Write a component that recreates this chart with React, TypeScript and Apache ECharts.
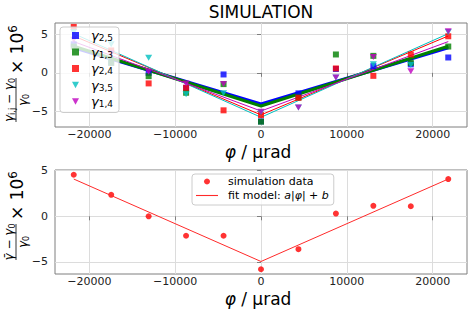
import React, { useEffect, useRef } from 'react';
import * as echarts from 'echarts';

// ---- data ----
const phi = [-21817, -17453, -13090, -8727, -4363, 0, 4363, 8727, 13090, 17453, 21817];
const gamma25 = [3.7, 1.3, 0.0, -1.95, -0.21, -6.3, -2.66, 0.5, 0.87, 1.1, 1.99];
const gamma13 = [3.4, 1.3, -0.43, -2.58, -1.46, -6.33, -3.2, 2.38, 2.2, 1.29, 3.41];
const gamma24 = [5.95, 2.9, -1.37, -1.93, -4.86, -5.47, -3.23, 0.57, -0.39, 2.38, 4.74];
const gamma35 = [5.3, 3.7, 1.94, -2.79, -2.66, -5.1, -4.5, -0.6, 1.12, 1.03, 5.3];
const gamma14 = [4.3, 2.55, 0.13, -1.37, -1.46, -5.03, -4.5, -0.6, 2.05, 0.22, 5.39];

const fitPhi = [-21817, 0, 21817];
const fit25 = [3.25, -4.04, 3.25];
const fit13 = [3.45, -4.3, 3.45];
const fit24 = [4.78, -5.45, 4.78];
const fit35 = [5.08, -5.76, 5.08];
const fit14 = [4.05, -4.95, 4.05];

const meanValues = [4.55, 2.35, 0.0, -2.13, -2.13, -5.8, -3.6, 0.3, 1.15, 1.1, 4.08];
const meanFit = [4.08, -4.95, 4.08];

const xTicks = [-20000, -10000, 0, 10000, 20000];
const yTicks = [-5, 0, 5];

const FONT = "'DejaVu Sans', sans-serif";
const TRI = 'path://M0,0L10,0L5,9Z';
const LINE_ICON = 'path://M0,0L40,0L40,2L0,2Z';

const pairs = (xs: number[], ys: number[]) => xs.map((x, i) => [x, ys[i]]);
const minus = (v: number) => String(v).replace('-', '\u2212');

const topSeries = [
  { name: 'γ2,5', data: gamma25, fit: fit25, color: '#0000ff', symbol: 'rect', lw: 3 },
  { name: 'γ1,3', data: gamma13, fit: fit13, color: '#008000', symbol: 'rect', lw: 3 },
  { name: 'γ2,4', data: gamma24, fit: fit24, color: '#ff0000', symbol: 'rect', lw: 1 },
  { name: 'γ3,5', data: gamma35, fit: fit35, color: '#00bfbf', symbol: TRI, lw: 1 },
  { name: 'γ1,4', data: gamma14, fit: fit14, color: '#bf00bf', symbol: TRI, lw: 1 },
];

function xAxisDef(gridIndex: number) {
  return {
    type: 'value', gridIndex, min: -24000, max: 24000,
    axisLine: { show: false },
    axisTick: { show: true, customValues: xTicks, length: 4, lineStyle: { color: '#7f7f7f' } },
    axisLabel: { customValues: xTicks, fontSize: 11, lineHeight: 11, fontFamily: FONT, color: '#222', margin: 2, formatter: (v: number) => minus(v) },
    splitLine: { show: true, lineStyle: { color: '#dcdcdc', width: 1 } },
  };
}
function yAxisDef(gridIndex: number, min: number, max: number) {
  return {
    type: 'value', gridIndex, min, max,
    axisLine: { show: false },
    axisTick: { show: true, customValues: yTicks, length: 4, lineStyle: { color: '#7f7f7f' } },
    axisLabel: { customValues: yTicks, fontSize: 11, fontFamily: FONT, color: '#222', margin: 7, formatter: (v: number) => minus(v) },
    splitLine: { show: true, lineStyle: { color: '#dcdcdc', width: 1 } },
  };
}

const labelRich = {
  g: { fontSize: 12, fontStyle: 'italic', fontFamily: FONT, lineHeight: 14, fill: '#000' },
  n: { fontSize: 12, fontFamily: FONT, lineHeight: 14, fill: '#000' },
  s: { fontSize: 8, fontFamily: FONT, verticalAlign: 'bottom', lineHeight: 8, fill: '#000' },
  m: { fontSize: 17, fontFamily: FONT, lineHeight: 20, fill: '#000' },
  p: { fontSize: 12, fontFamily: FONT, verticalAlign: 'top', lineHeight: 11, fill: '#000' },
};

function yLabel(cx: number, cy: number, num: string, fracW: number) {
  const totalW = fracW + 4 + 48;
  const x0 = -totalW / 2;
  return {
    type: 'group', x: cx, y: cy, rotation: Math.PI / 2,
    children: [
      { type: 'text', x: x0 + fracW / 2, y: -7, style: { text: num, rich: labelRich, align: 'center', verticalAlign: 'middle' } },
      { type: 'line', shape: { x1: x0, y1: 0, x2: x0 + fracW, y2: 0 }, style: { stroke: '#000', lineWidth: 0.8 } },
      { type: 'text', x: x0 + fracW / 2, y: 7, style: { text: '{g|γ}{s|0}', rich: labelRich, align: 'center', verticalAlign: 'middle' } },
      { type: 'text', x: x0 + fracW + 4, y: 1, style: { text: '{m|× 10}{p|6}', rich: labelRich, align: 'left', verticalAlign: 'middle' } },
    ],
  };
}

function xName(cy: number) {
  return {
    type: 'text', x: 258, y: cy,
    style: {
      text: '{i|φ}{n| / µrad}', align: 'center', verticalAlign: 'middle',
      rich: {
        i: { fontSize: 17, lineHeight: 15, fontStyle: 'italic', fontFamily: FONT, fill: '#000' },
        n: { fontSize: 17, lineHeight: 15, fontFamily: FONT, fill: '#000' },
      },
    },
  };
}

export default function App() {
  const ref = useRef<HTMLDivElement>(null);
  useEffect(() => {
    if (!ref.current) return;
    const chart = echarts.init(ref.current, null, { renderer: 'svg' });
    const series: any[] = [];
    topSeries.forEach((s, i) => {
      series.push({
        name: s.name, type: 'scatter', xAxisIndex: 0, yAxisIndex: 0,
        data: pairs(phi, s.data), symbol: s.symbol, symbolSize: s.symbol === 'rect' ? 6 : [7, 6],
        itemStyle: { color: s.color }, z: 2,
      });
      series.push({
        name: 'fit' + i, type: 'line', xAxisIndex: 0, yAxisIndex: 0,
        data: pairs(fitPhi, s.fit), symbol: 'none',
        lineStyle: { color: s.color, width: s.lw }, z: 2,
      });
    });
    series.push({
      name: 'simulation data', type: 'scatter', xAxisIndex: 1, yAxisIndex: 1,
      data: pairs(phi, meanValues), symbol: 'circle', symbolSize: 6,
      itemStyle: { color: '#ff0000' },
    });
    series.push({
      name: 'fit model', type: 'line', xAxisIndex: 1, yAxisIndex: 1,
      data: pairs(fitPhi, meanFit), symbol: 'none',
      itemStyle: { color: '#ff2a2a' },
      lineStyle: { color: '#ff2a2a', width: 1 },
    });

    chart.setOption({
      animation: false,
      backgroundColor: '#ffffff',
      grid: [
        { left: 55, top: 23, width: 412, height: 104, show: true, borderColor: '#7f7f7f', borderWidth: 1, backgroundColor: 'transparent' },
        { left: 55, top: 170, width: 412, height: 104, show: true, borderColor: '#7f7f7f', borderWidth: 1, backgroundColor: 'transparent' },
      ],
      xAxis: [xAxisDef(0), xAxisDef(1)],
      yAxis: [yAxisDef(0, -7.02, 6.46), yAxisDef(1, -6.32, 5.07)],
      legend: [
        {
          data: topSeries.map((s) => s.name),
          orient: 'vertical', left: 60, top: 27,
          padding: [2, 6, 4, 12], itemWidth: 7, itemHeight: 7, itemGap: 3,
          backgroundColor: 'rgba(255,255,255,0.8)', borderColor: '#cccccc', borderWidth: 1, borderRadius: 3,
          formatter: (name: string) => `{g|γ}{s|${name.slice(1)}}`,
          textStyle: {
            padding: [0, 0, 0, 7],
            rich: {
              g: { fontSize: 13, fontStyle: 'italic', fontFamily: FONT, lineHeight: 14, color: '#000' },
              s: { fontSize: 9, fontFamily: FONT, verticalAlign: 'bottom', lineHeight: 9, color: '#000' },
            },
          },
        },
        {
          data: [
            { name: 'simulation data' },
            { name: 'fit model', icon: LINE_ICON },
          ],
          orient: 'vertical', left: 192, top: 174,
          padding: [2, 5, 4, 4], itemWidth: 22, itemHeight: 6, itemGap: 3,
          backgroundColor: 'rgba(255,255,255,0.8)', borderColor: '#cccccc', borderWidth: 1, borderRadius: 3,
          formatter: (name: string) => name === 'fit model' ? '{n|fit model: }{i|a}{n||}{i|φ}{n|| + }{i|b}' : '{n|simulation data}',
          textStyle: {
            padding: [0, 0, 0, 5],
            rich: {
              n: { fontSize: 11, fontFamily: FONT, lineHeight: 14, color: '#000' },
              i: { fontSize: 11, fontStyle: 'italic', fontFamily: FONT, lineHeight: 14, color: '#000' },
            },
          },
        },
      ],
      graphic: [
        { type: 'text', x: 261, y: 12, style: { text: 'SIMULATION', fontSize: 17, fontFamily: FONT, fill: '#000', align: 'center', verticalAlign: 'middle' } },
        xName(152),
        xName(299),
        yLabel(16, 74, '{g|γ}{s|i,j}{n| − }{g|γ}{s|0}', 44),
        yLabel(16, 216, '{g|γ\u0304}{n| − }{g|γ}{s|0}', 36),
      ],
      series,
    });
    return () => chart.dispose();
  }, []);
  return <div ref={ref} style={{ width: 471, height: 314, position: 'fixed', left: 0, top: 0 }} />;
}
